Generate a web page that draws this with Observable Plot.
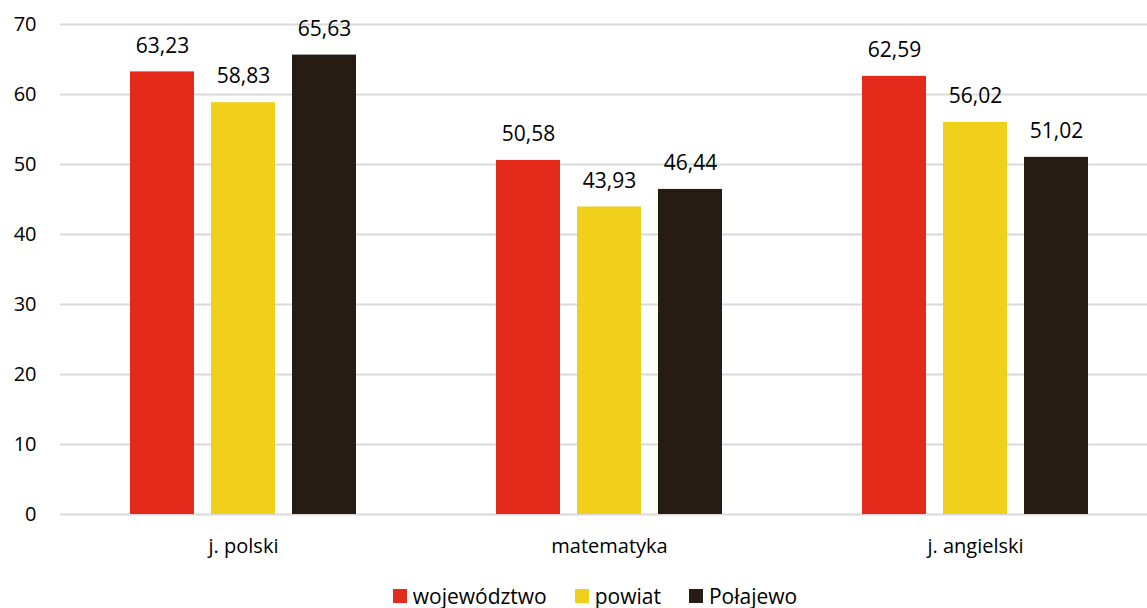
<!DOCTYPE html>
<html>
<head>
<meta charset="utf-8">
<script src="https://cdn.jsdelivr.net/npm/d3@7"></script>
<script src="https://cdn.jsdelivr.net/npm/@observablehq/plot@0.6"></script>
<style>
  html, body { margin: 0; padding: 0; background: #fff; overflow: hidden; }
  #chart svg { overflow: hidden; display: block; }
  .legend { display: flex; justify-content: center; align-items: center; margin-left: 43px;
    padding-top: 14px; font-family: "Open Sans", sans-serif; font-size: 21px; line-height: 24px; color: #000; }
  .legend .item { display: flex; align-items: center; margin: 0 14px; }
  .legend .sw { width: 14px; height: 14px; margin-right: 6px; }
</style>
</head>
<body>
<div id="chart"></div>
<div class="legend" id="legend"></div>
<script>
const categories = ["j. polski", "matematyka", "j. angielski"];
const series = ["województwo", "powiat", "Połajewo"];
const wojewodztwo = [63.23, 50.58, 62.59];
const powiat = [58.83, 43.93, 56.02];
const polajewo = [65.63, 46.44, 51.02];
const colors = ["#E32A1B", "#F0D01A", "#261C13"];
const yTicks = [0, 10, 20, 30, 40, 50, 60, 70];

const seriesValues = [wojewodztwo, powiat, polajewo];
const data = [];
categories.forEach((c, i) => {
  series.forEach((s, j) => data.push({cat: c, series: s, value: seriesValues[j][i]}));
});
const fmt = v => v.toFixed(2).replace(".", ",");

const chart = Plot.plot({
  width: 1147,
  height: 570,
  marginLeft: 59,
  marginRight: -11,
  marginTop: 24,
  marginBottom: 56,
  style: {fontFamily: "Open Sans", fontSize: "20px", color: "#000", background: "#fff"},
  fx: {domain: categories, padding: 0, label: null, axis: "bottom", tickSize: 0, tickPadding: 24},
  x: {domain: series, axis: null, paddingInner: 0.21, paddingOuter: 0.85},
  y: {domain: [0, 70], axis: null},
  color: {domain: series, range: colors},
  marks: [
    Plot.gridY(yTicks, {stroke: "#d9d9d9", strokeOpacity: 1, strokeWidth: 2}),
    Plot.barY(data, {fx: "cat", x: "series", y: "value", fill: "series"}),
    Plot.text(data, {fx: "cat", x: "series", y: "value", text: d => fmt(d.value), dy: -26, fontSize: 21, fill: "#000"}),
    Plot.axisY(yTicks, {tickSize: 0, tickPadding: 24, label: null, fontSize: 20})
  ]
});
document.getElementById("chart").appendChild(chart);

const legend = document.getElementById("legend");
series.forEach((s, i) => {
  const item = document.createElement("div");
  item.className = "item";
  const sw = document.createElement("span");
  sw.className = "sw";
  sw.style.background = colors[i];
  const t = document.createElement("span");
  t.textContent = s;
  item.appendChild(sw);
  item.appendChild(t);
  legend.appendChild(item);
});
</script>
</body>
</html>
